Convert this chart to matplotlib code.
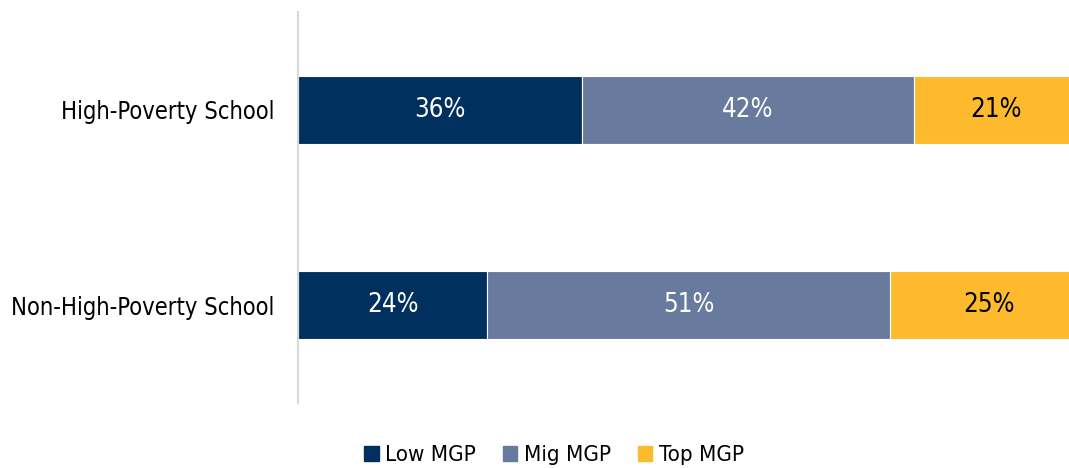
import matplotlib.pyplot as plt
from matplotlib.patches import Patch

# 数据
categories = ['Non-High-Poverty School', 'High-Poverty School']
low_mgp = [24, 36]
mid_mgp = [51, 42]
top_mgp = [25, 21]
series_names = ['Low MGP', 'Mig MGP', 'Top MGP']
colors = ['#02305E', '#687A9D', '#FDBA2C']
text_colors = ['white', 'white', 'black']

plt.rcParams['font.family'] = ['DejaVu Sans']
plt.rcParams['font.stretch'] = 'condensed'

fig = plt.figure(figsize=(10.69, 4.68), dpi=100)
ax = fig.add_axes([298 / 1069, 65 / 468, 1 - 298 / 1069, 391 / 468])

# 堆叠条形图 + 百分比标签
left = [0] * len(categories)
for vals, name, c, tc in zip([low_mgp, mid_mgp, top_mgp], series_names, colors, text_colors):
    bars = ax.barh(categories, vals, left=left, height=0.35, color=c,
                   edgecolor='white', linewidth=0.8, label=name)
    for b, v in zip(bars, vals):
        ax.text(b.get_x() + b.get_width() / 2, b.get_y() + b.get_height() / 2,
                f'{v}%', ha='center', va='center', color=tc, fontsize=18.5)
    left = [l + v for l, v in zip(left, vals)]

ax.set_xlim(0, 97.7)
ax.set_ylim(-0.5, 1.5)
ax.set_xticks([])
for s in ['top', 'right', 'bottom']:
    ax.spines[s].set_visible(False)
ax.spines['left'].set_color('#D9D9D9')
ax.spines['left'].set_linewidth(1.5)
ax.tick_params(axis='y', length=0, labelsize=17, pad=17)

# 图例
handles = [Patch(color=c, label=n) for c, n in zip(colors, series_names)]
fig.legend(handles=handles, loc='center', bbox_to_anchor=(554 / 1069, 1 - 455 / 468),
           ncol=3, frameon=False, fontsize=16, handlelength=0.65, handleheight=0.65,
           handletextpad=0.3, columnspacing=1.2)

fig.savefig('out.png', dpi=100)
